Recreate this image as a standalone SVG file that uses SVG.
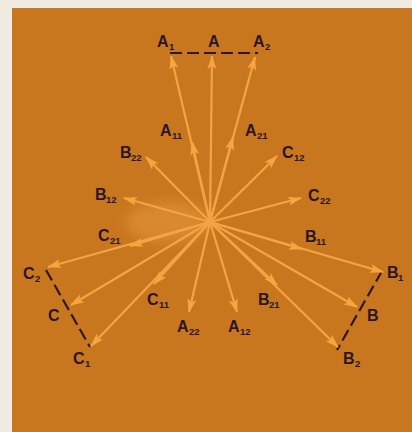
<svg xmlns="http://www.w3.org/2000/svg" width="412" height="432" viewBox="0 0 412 432">
<defs>
<marker id="ah" markerUnits="userSpaceOnUse" markerWidth="14" markerHeight="10" viewBox="0 0 14 10" refX="13" refY="5" orient="auto">
<path d="M0,0.5 L14,5 L0,9.5 L3,5 z" fill="#f7a53c"/>
</marker>
<filter id="blur" x="-50%" y="-50%" width="200%" height="200%"><feGaussianBlur stdDeviation="6"/></filter>
<style>
.ar{stroke:#f4a444;stroke-width:2.2;fill:none;marker-end:url(#ah)}
.dash{stroke:#2c1828;stroke-width:2.2;stroke-dasharray:12 5;fill:none}
text{font-family:"Liberation Sans",Arial,sans-serif;font-weight:bold;fill:#2a1628}
.m{font-size:16px}
.s{font-size:9.5px}
</style>
</defs>
<rect width="412" height="432" fill="#f1ece2"/>
<rect x="12" y="8" width="400" height="424" fill="#c9771f"/>
<ellipse cx="168" cy="222" rx="42" ry="20" fill="#dd8e34" filter="url(#blur)" opacity="0.8"/>
<g id="connectors">
<line class="dash" x1="170" y1="53" x2="258" y2="53"/>
<line class="dash" x1="46" y1="270" x2="90" y2="347"/>
<line class="dash" x1="382" y1="271" x2="337" y2="350"/>
<line class="ar" x1="210" y1="222" x2="171" y2="56"/>
<line class="ar" x1="210" y1="222" x2="212" y2="56"/>
<line class="ar" x1="210" y1="222" x2="255" y2="57"/>
<line class="ar" x1="210" y1="222" x2="192" y2="142"/>
<line class="ar" x1="210" y1="222" x2="233" y2="137"/>
<line class="ar" x1="210" y1="222" x2="146" y2="157"/>
<line class="ar" x1="210" y1="222" x2="124" y2="198"/>
<line class="ar" x1="210" y1="222" x2="130" y2="246"/>
<line class="ar" x1="210" y1="222" x2="48" y2="267"/>
<line class="ar" x1="210" y1="222" x2="71" y2="305"/>
<line class="ar" x1="210" y1="222" x2="91" y2="346"/>
<line class="ar" x1="210" y1="222" x2="154" y2="284"/>
<line class="ar" x1="210" y1="222" x2="189" y2="312"/>
<line class="ar" x1="210" y1="222" x2="237" y2="312"/>
<line class="ar" x1="210" y1="222" x2="277" y2="156"/>
<line class="ar" x1="210" y1="222" x2="301" y2="198"/>
<line class="ar" x1="210" y1="222" x2="302" y2="249"/>
<line class="ar" x1="210" y1="222" x2="383" y2="272"/>
<line class="ar" x1="210" y1="222" x2="357" y2="307"/>
<line class="ar" x1="210" y1="222" x2="338" y2="347"/>
<line class="ar" x1="210" y1="222" x2="277" y2="285"/>
</g>
<g id="A1"><text class="m" x="157" y="47">A</text><text class="s" x="169" y="50">1</text></g>
<g id="A"><text class="m" x="208" y="47">A</text></g>
<g id="A2"><text class="m" x="253" y="47">A</text><text class="s" x="265" y="50">2</text></g>
<g id="A11"><text class="m" x="160" y="136">A</text><text class="s" x="172" y="139">11</text></g>
<g id="A21"><text class="m" x="245" y="136">A</text><text class="s" x="257" y="139">21</text></g>
<g id="B22"><text class="m" x="120" y="158">B</text><text class="s" x="131" y="161">22</text></g>
<g id="C12"><text class="m" x="282" y="158">C</text><text class="s" x="294" y="161">12</text></g>
<g id="B12"><text class="m" x="95" y="200">B</text><text class="s" x="106" y="203">12</text></g>
<g id="C22"><text class="m" x="308" y="201">C</text><text class="s" x="320" y="204">22</text></g>
<g id="C21"><text class="m" x="98" y="241">C</text><text class="s" x="110" y="244">21</text></g>
<g id="B11"><text class="m" x="305" y="242">B</text><text class="s" x="316" y="245">11</text></g>
<g id="C2"><text class="m" x="23" y="279">C</text><text class="s" x="35" y="282">2</text></g>
<g id="B1"><text class="m" x="387" y="278">B</text><text class="s" x="398" y="281">1</text></g>
<g id="C11"><text class="m" x="147" y="305">C</text><text class="s" x="159" y="308">11</text></g>
<g id="B21"><text class="m" x="258" y="305">B</text><text class="s" x="269" y="308">21</text></g>
<g id="C"><text class="m" x="48" y="321">C</text></g>
<g id="B"><text class="m" x="367" y="321">B</text></g>
<g id="A22"><text class="m" x="177" y="332">A</text><text class="s" x="189" y="335">22</text></g>
<g id="A12"><text class="m" x="228" y="332">A</text><text class="s" x="240" y="335">12</text></g>
<g id="C1"><text class="m" x="73" y="364">C</text><text class="s" x="85" y="367">1</text></g>
<g id="B2"><text class="m" x="343" y="364">B</text><text class="s" x="355" y="367">2</text></g>
</svg>
